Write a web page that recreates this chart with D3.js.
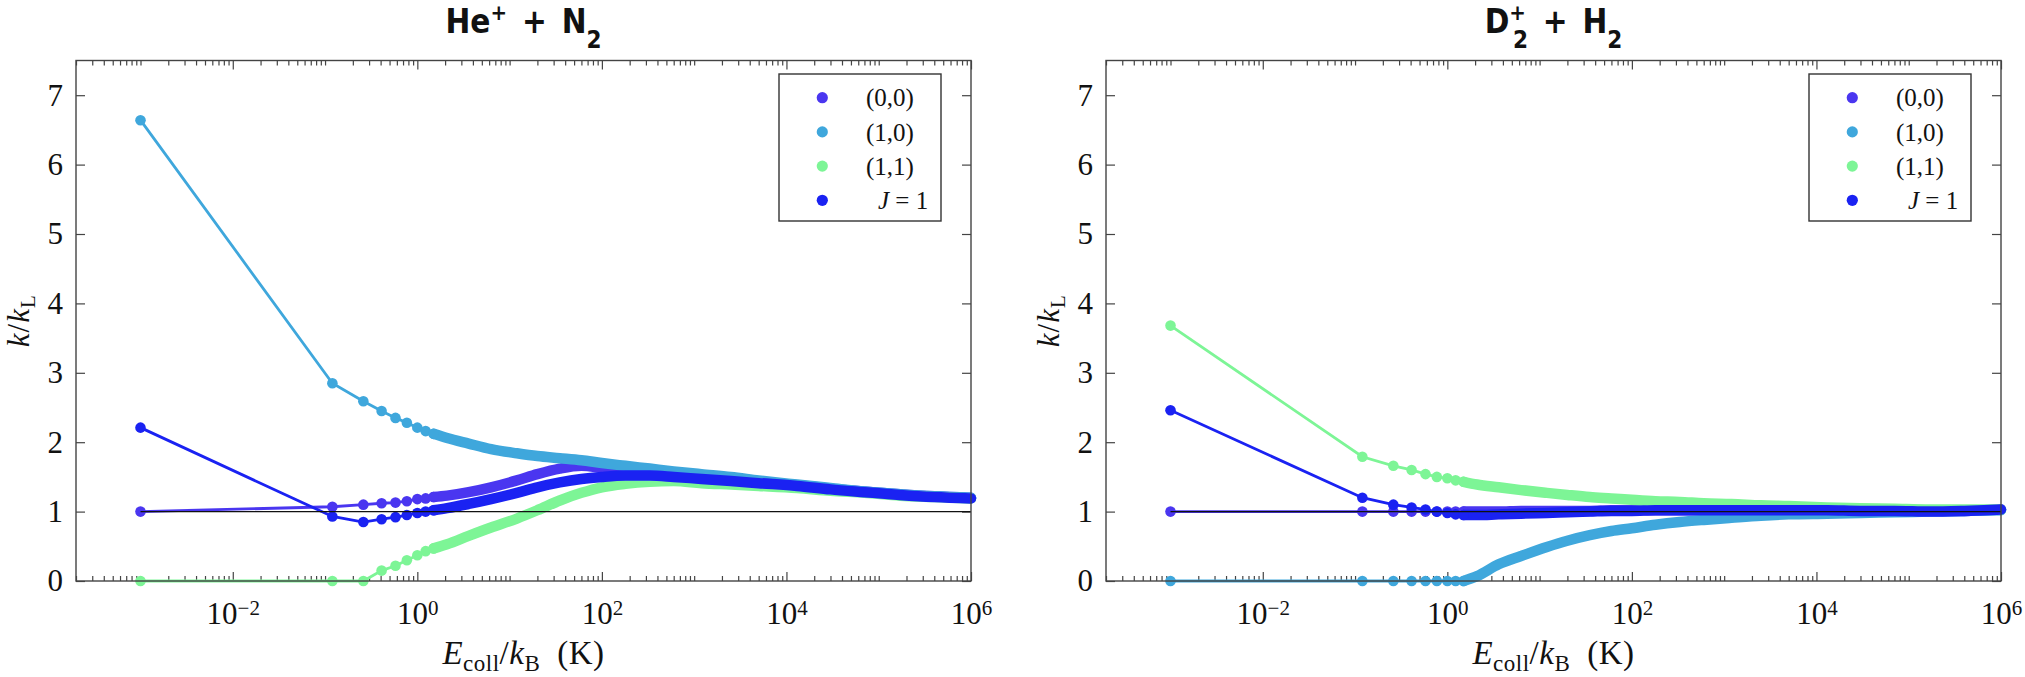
<!DOCTYPE html>
<html>
<head>
<meta charset="utf-8">
<script src="https://cdn.jsdelivr.net/npm/d3@7"></script>
<style>
  body { margin: 0; background: #fff; }
  text { font-family: "Liberation Serif", "DejaVu Serif", serif; fill: #111; }
  .title { font-family: "Liberation Sans Narrow", "DejaVu Sans Condensed", "DejaVu Sans", sans-serif; font-weight: bold; font-stretch: condensed; }
</style>
</head>
<body>
<svg id="chart" width="2025" height="677"></svg>
<script>
// collision energy grid E_coll/k_B (K), shared by every curve
const energies = [0.001, 0.12, 0.26, 0.41, 0.58, 0.77, 1.0, 1.23, 1.5, 2.1, 3.6, 6.3, 12, 20, 35, 60,
  100, 180, 330, 600, 1200, 2500, 5000, 13000, 30000, 70000, 170000, 400000, 1000000];

const stateLabels = ["(0,0)", "(1,0)", "(1,1)", "J = 1"];
const stateColors = ["#4a36f0", "#3fa7dc", "#7df596", "#1a22f2"];

// He+ + N2, k/kL
const heN2_00 = [1.00, 1.07, 1.10, 1.12, 1.13, 1.15, 1.18, 1.19, 1.21, 1.23, 1.28, 1.35, 1.45, 1.54, 1.62, 1.66,
  1.63, 1.59, 1.56, 1.53, 1.50, 1.47, 1.43, 1.38, 1.33, 1.29, 1.25, 1.22, 1.20];
const heN2_10 = [6.64, 2.85, 2.59, 2.45, 2.35, 2.28, 2.21, 2.16, 2.12, 2.06, 1.98, 1.90, 1.84, 1.80, 1.77, 1.74,
  1.70, 1.66, 1.62, 1.58, 1.54, 1.50, 1.45, 1.39, 1.34, 1.29, 1.25, 1.22, 1.20];
const heN2_11 = [0.00, 0.00, 0.00, 0.15, 0.22, 0.30, 0.37, 0.43, 0.47, 0.53, 0.65, 0.77, 0.90, 1.02, 1.16, 1.27,
  1.35, 1.40, 1.43, 1.44, 1.41, 1.39, 1.37, 1.34, 1.30, 1.27, 1.23, 1.21, 1.19];
const heN2_J1 = [2.21, 0.93, 0.85, 0.89, 0.92, 0.95, 0.98, 1.00, 1.02, 1.05, 1.11, 1.18, 1.27, 1.35, 1.42, 1.47,
  1.50, 1.52, 1.52, 1.50, 1.47, 1.44, 1.41, 1.37, 1.32, 1.28, 1.24, 1.21, 1.19];

// D2+ + H2, k/kL
const d2H2_00 = [1.00, 1.00, 1.00, 1.00, 1.00, 1.00, 1.00, 1.00, 1.00, 1.00, 1.00, 1.01, 1.01, 1.01, 1.01, 1.02,
  1.02, 1.02, 1.02, 1.02, 1.02, 1.02, 1.02, 1.02, 1.01, 1.01, 1.01, 1.01, 1.03];
const d2H2_10 = [0.00, 0.00, 0.00, 0.00, 0.00, 0.00, 0.00, 0.00, 0.00, 0.07, 0.24, 0.36, 0.49, 0.58, 0.66, 0.72,
  0.76, 0.81, 0.85, 0.88, 0.91, 0.94, 0.96, 0.97, 0.98, 0.99, 1.00, 1.01, 1.02];
const d2H2_11 = [3.68, 1.79, 1.66, 1.60, 1.54, 1.50, 1.48, 1.45, 1.43, 1.39, 1.35, 1.31, 1.27, 1.24, 1.21, 1.19,
  1.17, 1.15, 1.14, 1.12, 1.11, 1.09, 1.08, 1.06, 1.05, 1.04, 1.03, 1.03, 1.03];
const d2H2_J1 = [2.46, 1.20, 1.10, 1.06, 1.03, 1.00, 0.98, 0.96, 0.95, 0.95, 0.96, 0.97, 0.98, 0.99, 1.00, 1.01,
  1.01, 1.02, 1.02, 1.02, 1.02, 1.02, 1.02, 1.02, 1.01, 1.01, 1.00, 1.01, 1.03];

const xMajorTicks = [1e-2, 1e0, 1e2, 1e4, 1e6];
const yTicks = [0, 1, 2, 3, 4, 5, 6, 7];

const svg = d3.select("#chart");
const plotTop = 60.5, plotBottom = 581;
const frameColor = "#444";
const bandFrom = 1.5;   // beyond this the markers merge into a solid band

function minorTicks() {
  const out = [];
  for (let k = -4; k <= 5; k++) {
    for (let m = 1; m <= 9; m++) {
      if (m === 1 && k % 2 === 0) continue;
      const v = m * Math.pow(10, k);
      if (v >= 2e-4 && v <= 1e6) out.push(v);
    }
  }
  return out;
}

function styleAxis(g) {
  g.select(".domain").remove();
  g.selectAll(".tick line").attr("stroke", frameColor).attr("stroke-width", 1.2);
}

function drawPanel(p) {
  const x = d3.scaleLog().domain([2e-4, 1e6]).range([p.left, p.right]);
  const y = d3.scaleLinear().domain([0, 7.5]).range([plotBottom, plotTop]);
  const g = svg.append("g");

  // axes: ticks point inward on all four sides
  const bx = g.append("g").attr("transform", `translate(0,${plotBottom})`)
    .call(d3.axisBottom(x).tickValues(xMajorTicks).tickSize(-9).tickPadding(21)
      .tickFormat(d => "10"));
  bx.call(styleAxis);
  bx.selectAll(".tick text").attr("font-size", 31).each(function(d) {
    const e = Math.round(Math.log10(d));
    d3.select(this).append("tspan").attr("dy", "-0.42em").attr("font-size", 21)
      .text(e < 0 ? "\u2212" + (-e) : e);
  });
  g.append("g").attr("transform", `translate(0,${plotBottom})`)
    .call(d3.axisBottom(x).tickValues(minorTicks()).tickSize(-5).tickFormat(""))
    .call(styleAxis);
  g.append("g").attr("transform", `translate(0,${plotTop})`)
    .call(d3.axisTop(x).tickValues(xMajorTicks).tickSize(-9).tickFormat(""))
    .call(styleAxis);
  g.append("g").attr("transform", `translate(0,${plotTop})`)
    .call(d3.axisTop(x).tickValues(minorTicks()).tickSize(-5).tickFormat(""))
    .call(styleAxis);
  const ly = g.append("g").attr("transform", `translate(${p.left},0)`)
    .call(d3.axisLeft(y).tickValues(yTicks).tickSize(-9).tickPadding(13).tickFormat(d3.format("d")));
  ly.call(styleAxis);
  ly.selectAll(".tick text").attr("font-size", 31);
  g.append("g").attr("transform", `translate(${p.right},0)`)
    .call(d3.axisRight(y).tickValues(yTicks).tickSize(-9).tickFormat(""))
    .call(styleAxis);

  // curves
  const line = d3.line().x(d => x(d[0])).y(d => y(d[1]));
  const band = d3.line().x(d => x(d[0])).y(d => y(d[1])).curve(d3.curveMonotoneX);
  p.series.forEach((vals, i) => {
    const pts = energies.map((e, j) => [e, vals[j]]);
    const col = stateColors[i];
    g.append("path").attr("d", line(pts)).attr("fill", "none")
      .attr("stroke", col).attr("stroke-width", 2.8);
    g.append("path").attr("d", band(pts.filter(d => d[0] >= bandFrom))).attr("fill", "none")
      .attr("stroke", col).attr("stroke-width", 10.5)
      .attr("stroke-linecap", "round").attr("stroke-linejoin", "round");
    g.selectAll(null).data(pts.filter(d => d[0] <= bandFrom)).enter().append("circle")
      .attr("cx", d => x(d[0])).attr("cy", d => y(d[1])).attr("r", 5.3).attr("fill", col);
  });

  // reference line k = kL
  g.append("path")
    .attr("d", line([[energies[0], 1], [energies[energies.length - 1], 1]]))
    .attr("stroke", "#111").attr("stroke-width", 1.4).attr("fill", "none");

  // frame
  g.append("rect").attr("x", p.left).attr("y", plotTop)
    .attr("width", p.right - p.left).attr("height", plotBottom - plotTop)
    .attr("fill", "none").attr("stroke", frameColor).attr("stroke-width", 1.4);

  // legend
  const lg = g.append("g").attr("transform", `translate(${p.right - 192},74)`);
  lg.append("rect").attr("width", 162).attr("height", 147)
    .attr("fill", "#fff").attr("stroke", "#333").attr("stroke-width", 1.4);
  stateLabels.forEach((lab, i) => {
    const cy = 23.7 + i * 34.2;
    lg.append("circle").attr("cx", 43.3).attr("cy", cy).attr("r", 5.6).attr("fill", stateColors[i]);
    const t = lg.append("text").attr("y", cy).attr("dy", "0.35em").attr("font-size", 25);
    if (lab.startsWith("J")) {
      t.attr("x", 99);
      t.append("tspan").attr("font-style", "italic").text("J");
      t.append("tspan").text(lab.slice(1));
    } else {
      t.attr("x", 87).text(lab);
    }
  });

  // title
  const cx = (p.left + p.right) / 2;
  const tt = g.append("text").attr("class", "title").attr("x", cx).attr("y", 33)
    .attr("text-anchor", "middle").attr("font-size", 33);
  p.title(tt);

  // axis labels
  const xl = g.append("text").attr("x", cx).attr("y", 664).attr("text-anchor", "middle")
    .attr("font-size", 33).attr("letter-spacing", 0.5);
  xl.append("tspan").attr("font-style", "italic").text("E");
  xl.append("tspan").attr("font-size", 23).attr("dy", 7).text("coll");
  xl.append("tspan").attr("dy", -7).text("/");
  xl.append("tspan").attr("font-style", "italic").text("k");
  xl.append("tspan").attr("font-size", 23).attr("dy", 7).text("B");
  xl.append("tspan").attr("dy", -7).text("\u2002(K)");

  const yl = g.append("text").attr("transform", `translate(${p.left - 47},${(plotTop + plotBottom) / 2}) rotate(-90)`)
    .attr("text-anchor", "middle").attr("font-size", 31).attr("letter-spacing", 1);
  yl.append("tspan").attr("font-style", "italic").text("k");
  yl.append("tspan").text("/");
  yl.append("tspan").attr("font-style", "italic").text("k");
  yl.append("tspan").attr("font-size", 21).attr("dy", 6).text("L");
}

const panels = [
  {
    left: 76, right: 971,
    series: [heN2_00, heN2_10, heN2_11, heN2_J1],
    title: t => {
      t.append("tspan").text("He");
      t.append("tspan").attr("font-size", 22).attr("dy", -13).text("+");
      t.append("tspan").attr("dy", 13).text("\u2002+\u2002N");
      t.append("tspan").attr("font-size", 24).attr("dy", 15).text("2");
    }
  },
  {
    left: 1106, right: 2001,
    series: [d2H2_00, d2H2_10, d2H2_11, d2H2_J1],
    title: t => {
      t.append("tspan").text("D");
      t.append("tspan").attr("font-size", 22).attr("dy", -13).text("+");
      t.append("tspan").attr("font-size", 24).attr("dx", -13).attr("dy", 28).text("2");
      t.append("tspan").attr("dy", -15).text("\u2002+\u2002H");
      t.append("tspan").attr("font-size", 24).attr("dy", 15).text("2");
    }
  }
];

panels.forEach(drawPanel);
</script>
</body>
</html>
